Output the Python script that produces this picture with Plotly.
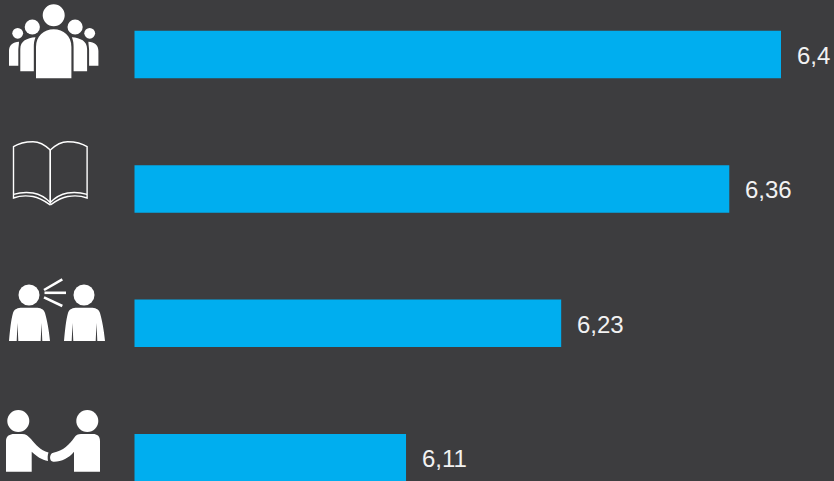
import plotly.graph_objects as go

categories = ["Group", "Book", "Conversation", "Handshake"]
values = [6.4, 6.36, 6.23, 6.11]
labels = ["6,4", "6,36", "6,23", "6,11"]

BG = "#3d3d3f"
BAR = "#00aeef"
WHITE = "#ffffff"
W, H = 834, 481


def X(px):
    return px / W


def Y(py):
    return 1 - py / H


def poly(cmds, fill=WHITE, line=None, lw=0):
    parts = []
    for c in cmds:
        if isinstance(c, str):
            parts.append(c)
        else:
            parts.append(f"{X(c[0]):.5f},{Y(c[1]):.5f}")
    s = dict(type="path", xref="paper", yref="paper", path=" ".join(parts),
             layer="above")
    if fill:
        s["fillcolor"] = fill
    else:
        s["fillcolor"] = "rgba(0,0,0,0)"
    s["line"] = dict(color=line or fill, width=lw)
    return s


def circle(cx, cy, r):
    return dict(type="circle", xref="paper", yref="paper", layer="above",
                x0=X(cx - r), x1=X(cx + r), y0=Y(cy + r), y1=Y(cy - r),
                fillcolor=WHITE, line=dict(width=0))


def seg(x0, y0, x1, y1, w=2.6):
    return dict(type="line", xref="paper", yref="paper", layer="above",
                x0=X(x0), x1=X(x1), y0=Y(y0), y1=Y(y1),
                line=dict(color=WHITE, width=w))


def mirror(cmds, s):
    return [c if isinstance(c, str) else (s - c[0], c[1]) for c in cmds]


def shift(cmds, dx):
    return [c if isinstance(c, str) else (c[0] + dx, c[1]) for c in cmds]


shapes = []

# Group icon
S = 107.4
shapes += [circle(53.7, 15.3, 11), circle(32.3, 27, 7.6), circle(75.1, 27, 7.6),
           circle(17.7, 33.3, 5.4), circle(89.7, 33.3, 5.4)]
shapes.append(poly(["M", (36, 78.3), "L", (36, 47), "C", (36, 36), (44, 29.3), (53.7, 29.3),
                    "C", (63.4, 29.3), (71.4, 36), (71.4, 47), "L", (71.4, 78.3), "Z"]))
mid = ["M", (20.3, 71.3), "L", (20.3, 49), "C", (20.3, 41), (27, 38), (35.5, 37.3),
       "C", (34, 41), (33.8, 44), (33.8, 47), "L", (33.8, 71.3), "Z"]
outer = ["M", (9, 65.7), "L", (9, 51), "C", (9, 45), (13, 42), (19, 41.7),
         "C", (19, 44), (18.3, 48), (18.3, 50), "L", (18.3, 65.7), "Z"]
for p in (mid, outer):
    shapes.append(poly(p))
    shapes.append(poly(mirror(p, S)))

# Book icon
S = 100.6
page = ["M", (50.3, 150), "C", (44, 144), (38, 141.7), (33, 141.7),
        "C", (26, 141.7), (19, 143), (13.5, 146.7),
        "L", (13.5, 198), "C", (20, 195.5), (27, 195.5), (33, 196.5),
        "C", (41, 198), (46, 202), (50.3, 205)]
inner = ["M", (13.5, 194.3), "C", (20, 192.5), (27, 192.2), (33, 193),
         "C", (41, 194.5), (46, 198), (50.3, 202.5), "L", (50.3, 150)]
for p in (page, inner):
    shapes.append(poly(p, fill=None, line=WHITE, lw=1.4))
    shapes.append(poly(mirror(p, S), fill=None, line=WHITE, lw=1.4))

# Conversation icon
shapes += [circle(29, 295, 10.5), circle(84, 295, 10.5)]
body = ["M", (9, 341), "C", (10, 330), (11, 320), (13, 313),
        "C", (14, 309), (18, 307.7), (22, 307.7), "L", (36, 307.7),
        "C", (40, 307.7), (44, 309), (45, 313), "C", (47, 320), (49, 330), (50, 341),
        "L", (42.3, 341), "L", (41.5, 323), "L", (40.7, 341),
        "L", (18.3, 341), "L", (17.5, 323), "L", (16.7, 341), "Z"]
shapes.append(poly(body))
shapes.append(poly(shift(body, 55)))
shapes += [seg(44, 290, 62.3, 279.3), seg(44.5, 292.8, 66, 292.8), seg(44, 297.3, 62.3, 306)]

# Handshake icon
shapes += [circle(18.3, 421, 11), circle(87.3, 421, 11)]
shapes.append(poly(["M", (6, 471.7), "L", (6, 441), "C", (6, 436), (10, 434), (14, 434),
                    "L", (22, 434), "C", (26, 434), (28, 436), (31, 439),
                    "C", (36, 445), (40, 450), (48.5, 452.5),
                    "C", (47.5, 455), (47.5, 458), (48, 461),
                    "C", (42, 460), (36, 456), (31.7, 451.7),
                    "L", (31.7, 471.7), "Z"]))
shapes.append(poly(["M", (100, 471.7), "L", (100, 441), "C", (100, 436), (97, 434), (93, 434),
                    "L", (81, 434), "C", (78, 434), (76, 435), (74, 438),
                    "C", (70, 444), (63, 451), (53.3, 452.7),
                    "C", (49, 453.5), (49, 461.5), (53.3, 461.7),
                    "C", (61, 462), (69, 458), (74, 451.7),
                    "L", (74, 471.7), "Z"]))

fig = go.Figure(go.Bar(
    x=values,
    y=categories,
    orientation="h",
    marker=dict(color=BAR, line=dict(width=0)),
    width=0.353,
    hoverinfo="skip",
))

annotations = [
    dict(x=v, y=c, text=t, xref="x", yref="y", xanchor="left", yanchor="middle",
         xshift=13.5, yshift=-1, showarrow=False,
         font=dict(family="Liberation Sans, Arial, sans-serif", size=24, color="#f2f2f2"))
    for v, c, t in zip(values, categories, labels)
]

fig.update_layout(
    width=W, height=H,
    autosize=False,
    margin=dict(l=0, r=0, t=0, b=0, pad=0),
    paper_bgcolor=BG,
    plot_bgcolor=BG,
    showlegend=False,
    shapes=shapes,
    annotations=annotations,
    xaxis=dict(domain=[134.5 / W, 1], range=[5.9, 5.9 + 699.5 / 1293],
               visible=False, fixedrange=True),
    yaxis=dict(domain=[0, 1], type="category", categoryorder="array", categoryarray=categories,
               range=[3.173, -0.4055], visible=False, fixedrange=True),
)

fig.write_html(
    "out.html",
    config=dict(displayModeBar=False),
    post_script="document.body.style.margin='0';document.body.style.overflow='hidden';"
                f"document.body.style.background='{BG}';",
)
